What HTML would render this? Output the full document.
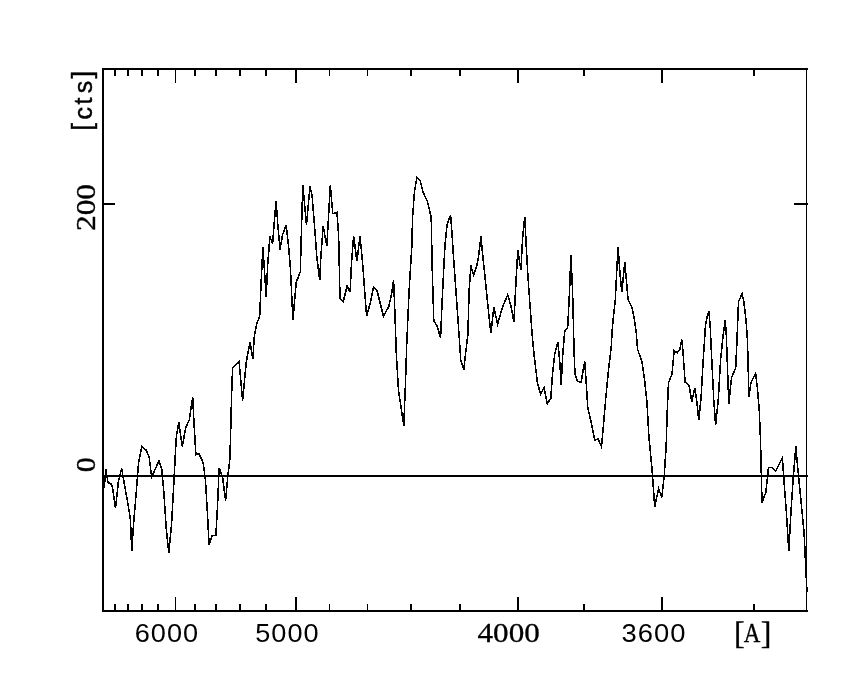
<!DOCTYPE html>
<html lang="en"><head><meta charset="utf-8"><title>Spectrum [cts] vs [A]</title>
<style>html,body{margin:0;padding:0;background:#fff}body{width:850px;height:680px;overflow:hidden}svg{display:block}</style>
</head><body>
<svg width="850" height="680" viewBox="0 0 850 680">
<rect width="850" height="680" fill="#fff"/>
<g shape-rendering="crispEdges" fill="#000">
<rect x="102" y="68" width="706" height="2"/>
<rect x="102" y="610" width="706" height="2"/>
<rect x="102" y="68" width="2" height="544"/>
<rect x="806" y="68" width="1" height="544"/>
<rect x="102" y="475" width="706" height="2"/>
<rect x="102" y="203" width="13" height="1.6"/>
<rect x="794" y="203" width="14" height="2"/>
<rect x="114" y="70" width="2" height="6"/>
<rect x="114" y="604" width="2" height="6"/>
<rect x="127" y="70" width="2" height="6"/>
<rect x="127" y="604" width="2" height="6"/>
<rect x="141" y="70" width="2" height="6"/>
<rect x="141" y="604" width="2" height="6"/>
<rect x="157" y="70" width="2" height="6"/>
<rect x="157" y="604" width="2" height="6"/>
<rect x="175" y="70" width="1" height="13"/>
<rect x="175" y="597" width="1" height="13"/>
<rect x="194" y="70" width="2" height="6"/>
<rect x="194" y="604" width="2" height="6"/>
<rect x="215" y="70" width="2" height="6"/>
<rect x="215" y="604" width="2" height="6"/>
<rect x="239" y="70" width="2" height="6"/>
<rect x="239" y="604" width="2" height="6"/>
<rect x="265" y="70" width="2" height="6"/>
<rect x="265" y="604" width="2" height="6"/>
<rect x="295" y="70" width="2" height="13"/>
<rect x="295" y="597" width="2" height="13"/>
<rect x="329" y="70" width="1" height="6"/>
<rect x="329" y="604" width="1" height="6"/>
<rect x="367" y="70" width="1" height="6"/>
<rect x="367" y="604" width="1" height="6"/>
<rect x="410" y="70" width="2" height="6"/>
<rect x="410" y="604" width="2" height="6"/>
<rect x="459" y="70" width="2" height="6"/>
<rect x="459" y="604" width="2" height="6"/>
<rect x="517" y="70" width="2" height="13"/>
<rect x="517" y="597" width="2" height="13"/>
<rect x="583" y="70" width="2" height="6"/>
<rect x="583" y="604" width="2" height="6"/>
<rect x="661" y="70" width="2" height="13"/>
<rect x="661" y="597" width="2" height="13"/>
<rect x="753" y="70" width="2" height="6"/>
<rect x="753" y="604" width="2" height="6"/>
</g>
<polyline shape-rendering="crispEdges" fill="none" stroke="#000" stroke-width="1.55" stroke-linejoin="miter" points="104.3,488 105.7,469 108,482.6 111.5,484.1 112.4,486.8 115.5,507.9 118.5,480.6 121.7,468.6 124.7,485.9 128.2,505.3 130.4,519.4 131.8,551.2 133.5,524.7 136.2,492.9 138.5,462.9 141.8,446.7 146.2,450.2 149.1,456.8 151.7,477.1 155.6,468.2 159.1,460.8 161.8,469.1 163.9,492.9 166.2,528.2 168.8,552.9 171.5,524.7 173.8,484.1 175.5,450.6 176.5,435.3 178.8,422.6 182.3,446.4 185.8,427.4 189.2,420.3 192.7,397.4 194.1,424.7 195.9,454.7 199.1,453.8 203.2,462.9 205.5,480.6 207.6,515.9 209.1,545 212.1,535.3 215.9,535.3 217.9,498.2 219.1,467.9 222.6,477.1 225.6,500.9 227.9,475.3 229.7,461.2 230.5,438.8 231.5,398.2 232.6,367.9 239.1,361.7 242.6,400.8 246.2,362.9 248.3,350.6 250.1,342.5 252.8,359.2 254.4,335.3 256.5,324.7 259.7,315.9 261.1,282.4 262.9,247.1 266.2,297.4 267.6,266 269.9,236.5 272.6,243.5 274.4,220.6 276.1,201.2 277.9,225.9 280,249.5 282.6,234.7 286.2,225 288.8,248.8 290.4,268 292.9,320.3 296.2,282.4 300.3,271.8 301.5,228 302.8,185.3 306.5,225 310,186.2 312.1,195.9 314.4,224.1 316.7,255.9 319.7,280.2 320.9,255.9 323.2,225.9 326.8,246.2 328.5,217.1 330.3,185.3 332.8,213.6 336.9,212.3 338.6,234.7 340,298.2 343.2,301.8 347.1,285.9 350.1,292.1 351.5,262.9 353.6,235.6 356.9,261.3 360,236.1 362.5,262 366.6,316 370.3,302.9 373.5,286.7 377,290.6 383.5,316.2 388.8,306.5 391.5,294.1 393.6,280 395,315 396.2,351.8 398.5,390.6 401.2,408.2 403.8,425.5 405.6,380 406.8,343 409.1,290.6 411.8,246.5 412.6,217.1 414.4,192.4 416.8,177.5 420.2,180.9 423.2,192.4 427.3,201.2 431.2,217.1 432.1,264.1 433.8,320.6 437.4,326.8 440.6,338 441.8,308.2 444.4,255.3 445.3,241.8 447.1,224.6 450.6,214.9 452.2,236 453.2,252.4 455.9,290.6 459.4,340 460.8,360.6 463.8,369.9 465.6,353.5 467.9,334.1 469.1,290.6 470.9,265.5 473.5,275.1 476.5,267 478.5,257.5 480.9,236.3 483.2,260 484.4,270.6 487.9,305.9 490.9,333.2 493.8,307.3 497.6,323.9 502.9,305.9 507.7,294.9 510.9,305.9 513.9,321.8 516.2,277.6 517.8,250.4 520.9,270 522.6,238.2 524.7,216.7 526.2,245 527.7,273 530.3,309.4 532.6,340 534.4,357.6 537.4,382.4 540.6,394.4 544.1,387.6 547.3,403.9 550.8,398.2 552.4,375.3 554.7,354.1 557.9,342.4 560,364.7 561.2,385 562.7,355 564.7,331.5 567.7,327.4 569.5,291.8 570.9,255.1 572.6,291.8 574.1,352 575,374.4 577.6,381.5 581.2,382 582.9,371.8 584.7,361.5 586.1,380.6 587.7,407.1 590.9,421.2 594.8,440.2 597.9,438.8 601.5,446.8 603.2,428.2 605.9,396.5 608.5,370 611.2,347.1 612.4,326.8 615.3,300 616.8,270 618.1,247.2 619.9,272.5 621.8,292.3 624.8,262.1 626.5,281.5 628,299.5 631.8,307.1 634.4,319.4 636.2,332 637.5,349 642,362.3 644.6,380 647,403 648.8,435 649.4,441.8 652.1,470 654.7,507.1 658.6,488.5 661.8,497.4 664.4,473.5 666.2,445.3 667.1,414.7 668.5,382.9 672,374.1 674.1,350.6 677.3,352.8 680,349 681.7,339.5 683,352 685.1,382.1 689.1,385.6 691.8,401.5 694.8,388.2 696.7,400.6 698.8,420.3 701.1,397.1 702.9,365.3 705.5,324.7 707.3,315.9 708.9,311.5 710.3,328.2 711.4,352 713.8,400.6 715.6,425.2 718.2,400.6 720.7,358 723.5,332.5 725.3,320.3 726.3,335 727.4,365.3 728.8,404.1 731.5,377.6 735.7,367.9 737,340 738.5,301.8 742.1,293.6 743.8,301.8 745.6,315.9 747.2,335.3 748,358 748.8,397.1 750.9,382.9 755.6,373.2 757.4,388.2 759.2,409.4 760.5,440 762,502.8 765.8,492.5 768.5,467.5 772.2,467.3 775.8,471.2 782.4,457.9 783.8,478.2 786.1,508.2 788.8,551.2 790.9,513.5 793.2,478.2 795.8,446.5 797.9,469.4 800.6,497 804.1,533 805.9,570.6 807,592"/>
<text x="134.8" y="642.3" font-family="'Liberation Sans', sans-serif" font-size="25.3" letter-spacing="0.9" textLength="64.2" lengthAdjust="spacingAndGlyphs">6000</text>
<text x="255.3" y="642.3" font-family="'Liberation Sans', sans-serif" font-size="25.3" letter-spacing="0.9" textLength="64.2" lengthAdjust="spacingAndGlyphs">5000</text>
<text x="477.5" y="642.2" font-family="'Liberation Serif', serif" font-size="26.6" stroke="#000" stroke-width="0.3" textLength="62.3" lengthAdjust="spacingAndGlyphs">4000</text>
<text x="621.6" y="642.3" font-family="'Liberation Sans', sans-serif" font-size="25.3" letter-spacing="0.9" textLength="64.8" lengthAdjust="spacingAndGlyphs">3600</text>
<text font-family="'Liberation Serif', serif" font-size="27" stroke="#000" stroke-width="0.35"><tspan font-size="32" x="733.9" y="644.4">[</tspan><tspan x="743.8" y="642.3" textLength="16.6" lengthAdjust="spacingAndGlyphs">A</tspan><tspan font-size="32" x="760.8" y="644.4">]</tspan></text>
<text transform="translate(95.1,231) rotate(-90)" font-family="'Liberation Serif', serif" font-size="26.6" stroke="#000" stroke-width="0.4" textLength="47" lengthAdjust="spacingAndGlyphs">200</text>
<text transform="translate(95.1,472.2) rotate(-90)" font-family="'Liberation Serif', serif" font-size="26.6" stroke="#000" stroke-width="0.4" textLength="15" lengthAdjust="spacingAndGlyphs">0</text>
<text transform="translate(91.8,129) rotate(-90)" font-family="'Liberation Sans', sans-serif" font-size="25" stroke="#000" stroke-width="0.45"><tspan font-size="28" x="-1.7" y="-1.2">[</tspan><tspan x="9.6 24.4 35.8" y="0">cts</tspan><tspan font-size="28" x="50.6" y="-1.2">]</tspan></text>
</svg>
</body></html>
